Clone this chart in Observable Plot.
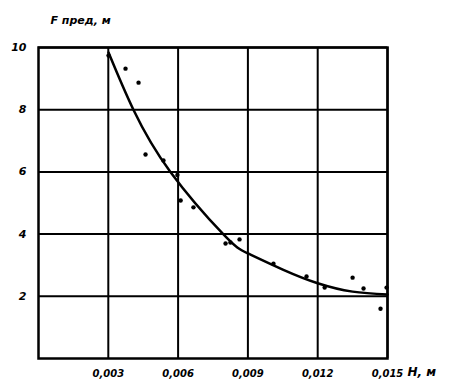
<!DOCTYPE html>
<html><head><meta charset="utf-8">
<script src="https://cdn.jsdelivr.net/npm/d3@7"></script>
<script src="https://cdn.jsdelivr.net/npm/@observablehq/plot@0.6"></script>
<style>body{margin:0;background:#fff}</style>
</head><body><div id="chart"></div>
<script>
const xTicks = [0.003, 0.006, 0.009, 0.012, 0.015];
const xTickLabels = ["0,003", "0,006", "0,009", "0,012", "0,015"];
const yTicks = [2, 4, 6, 8, 10];
const yTickLabels = ["2", "4", "6", "8", "10"];
const pointH = [0.00301, 0.00374, 0.0043, 0.0046, 0.00537, 0.00597, 0.00611, 0.00666, 0.00804, 0.00825, 0.00864, 0.0101, 0.01152, 0.0123, 0.0135, 0.01397, 0.01496, 0.0147];
const pointF = [9.74, 9.32, 8.87, 6.56, 6.37, 5.9, 5.08, 4.86, 3.7, 3.73, 3.83, 3.05, 2.64, 2.28, 2.6, 2.25, 2.28, 1.6];
const curveH = [0.00301, 0.00408, 0.00567, 0.00795, 0.009, 0.0105, 0.012, 0.0135, 0.015];
const curveF = [9.84, 8.0, 6.0, 3.99, 3.38, 2.86, 2.42, 2.15, 2.06];
const yTitle = "F пред, м";
const xTitle = "H, м";

const points = pointH.map((h, i) => ({h, f: pointF[i]}));
const curve = curveH.map((h, i) => ({h, f: curveF[i]}));
const xFmt = d => xTickLabels[xTicks.indexOf(d)];
const yFmt = d => yTickLabels[yTicks.indexOf(d)];

const chart = Plot.plot({
  width: 449,
  height: 389,
  marginLeft: 38,
  marginRight: 62,
  marginTop: 47,
  marginBottom: 31,
  style: {fontFamily: "DejaVu Sans", background: "#fff", color: "#000"},
  x: {domain: [0, 0.015]},
  y: {domain: [0, 10]},
  marks: [
    Plot.gridX(xTicks, {stroke: "#000", strokeOpacity: 1, strokeWidth: 2}),
    Plot.gridY(yTicks, {stroke: "#000", strokeOpacity: 1, strokeWidth: 2}),
    Plot.frame({stroke: "#000", strokeWidth: 2.5}),
    Plot.axisX({ticks: xTicks, tickFormat: xFmt, tickSize: 0, tickPadding: 11, fontSize: 10, fontWeight: "bold", fontStyle: "italic", label: null}),
    Plot.axisY({ticks: yTicks, tickFormat: yFmt, tickSize: 0, tickPadding: 12, fontSize: 11, fontWeight: "bold", fontStyle: "italic", label: null}),
    Plot.line(curve, {x: "h", y: "f", curve: "natural", stroke: "#000", strokeWidth: 2.5}),
    Plot.dot(points, {x: "h", y: "f", r: 2.2, fill: "#000", stroke: null}),
    Plot.text([yTitle], {frameAnchor: "top-left", dx: 12, dy: -31, text: d => d, fontSize: 11, fontWeight: "bold", fontStyle: "italic", textAnchor: "start"}),
    Plot.text([xTitle], {frameAnchor: "bottom-right", dx: 20, dy: 17, text: d => d, fontSize: 12, fontWeight: "bold", fontStyle: "italic", textAnchor: "start"})
  ]
});
document.getElementById("chart").appendChild(chart);
</script>
</body></html>
